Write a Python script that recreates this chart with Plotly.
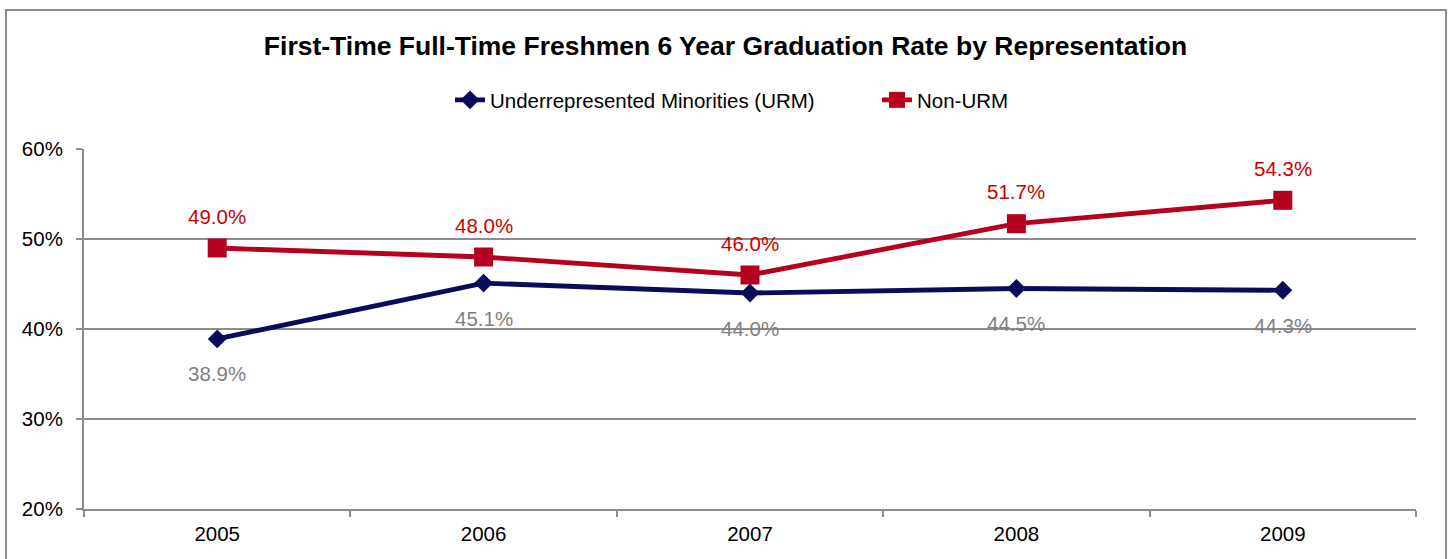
import plotly.graph_objects as go

years = ["2005", "2006", "2007", "2008", "2009"]
urm = [38.9, 45.1, 44.0, 44.5, 44.3]
non_urm = [49.0, 48.0, 46.0, 51.7, 54.3]
y_ticks = [20, 30, 40, 50, 60]
y_tick_labels = ["20%", "30%", "40%", "50%", "60%"]

FONT = "Liberation Sans, Arial, sans-serif"
NAVY = "#0b0b5c"
RED = "#b5001f"
FS = 20.5

fig = go.Figure()
fig.add_trace(go.Scatter(
    x=years, y=urm, mode="lines+markers", name="Underrepresented Minorities (URM)",
    line=dict(color=NAVY, width=4.8),
    marker=dict(symbol="diamond", size=14.5, color=NAVY),
))
fig.add_trace(go.Scatter(
    x=years, y=non_urm, mode="lines+markers", name="Non-URM",
    line=dict(color=RED, width=4.8),
    marker=dict(symbol="square", size=19, color=RED),
))

annotations = []
for i, v in enumerate(urm):
    annotations.append(dict(x=i, y=v, xref="x", yref="y", text=f"{v:.1f}%", showarrow=False,
                            yshift=-35, font=dict(family=FONT, size=FS, color="#7f7f7f")))
for i, v in enumerate(non_urm):
    annotations.append(dict(x=i, y=v, xref="x", yref="y", text=f"{v:.1f}%", showarrow=False,
                            yshift=32, font=dict(family=FONT, size=FS, color="#cc0000")))

fig.update_layout(
    width=1449, height=559,
    margin=dict(l=84, r=33, t=149, b=50),
    paper_bgcolor="white", plot_bgcolor="white",
    font=dict(family=FONT, size=FS, color="black"),
    title=dict(text="<b>First-Time Full-Time Freshmen 6 Year Graduation Rate by Representation</b>",
               x=(261 + 1190) / 2 / 1449, xanchor="center", y=1 - 46 / 559, yanchor="middle",
               font=dict(family=FONT, size=26.5, color="black")),
    legend=dict(orientation="h", x=(450 - 84) / 1332, xanchor="left", y=1.136, yanchor="middle",
                font=dict(family=FONT, size=FS, color="black"),
                entrywidth=382, entrywidthmode="pixels",
                bgcolor="rgba(0,0,0,0)"),
    showlegend=True,
    annotations=annotations,
    xaxis=dict(type="category", range=[-0.5, 4.5], showgrid=False,
               showline=True, linecolor="#8c8c8c", linewidth=2,
               ticks="outside", ticklen=6, tickcolor="#8c8c8c", tickwidth=2,
               tickson="boundaries", ticklabelstandoff=5,
               tickfont=dict(family=FONT, size=FS, color="black"),
               zeroline=False, fixedrange=True),
    yaxis=dict(range=[20, 60], tickvals=y_ticks, ticktext=y_tick_labels,
               showgrid=True, gridcolor="#8c8c8c", gridwidth=2,
               showline=True, linecolor="#8c8c8c", linewidth=2,
               ticks="outside", ticklen=6, tickcolor="#8c8c8c", tickwidth=2,
               ticklabelstandoff=9,
               tickfont=dict(family=FONT, size=FS, color="black"),
               zeroline=False, fixedrange=True),
    shapes=[dict(type="rect", xref="paper", yref="paper",
                 x0=(6 - 84) / 1332, x1=(1446 - 84) / 1332,
                 y0=(509 - 570) / 360, y1=(509 - 10) / 360,
                 line=dict(color="#8c8c8c", width=2), fillcolor="rgba(0,0,0,0)", layer="below")],
)

fig.write_html("out.html", config={"displayModeBar": False},
               post_script="document.body.style.margin='0';")
